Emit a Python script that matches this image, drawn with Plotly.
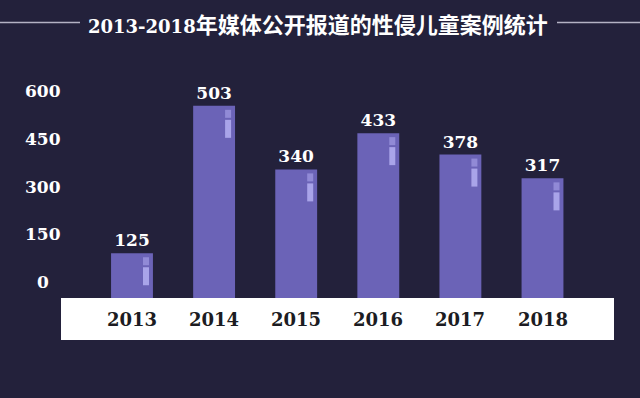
import plotly.graph_objects as go

# ---- data ----
years = ["2013", "2014", "2015", "2016", "2017", "2018"]
cases = [125, 503, 340, 433, 378, 317]
ytick_vals = [0, 150, 300, 450, 600]
ytick_text = ["0", "150", "300", "450", "600"]
title_num = "2013-2018"
title_cjk = "年媒体公开报道的性侵儿童案例统计"

W, H = 640, 398
BG = "#23213b"
BAR = "#6b63b7"
NUMFONT = "DejaVu Serif"

fig = go.Figure()
fig.add_trace(go.Bar(
    x=years, y=cases, width=0.51,
    marker=dict(color=BAR, line=dict(width=0)),
    text=[str(v) for v in cases], textposition="outside",
    textfont=dict(family=NUMFONT, size=17, color="white", weight="bold"),
    cliponaxis=False, yaxis="y", hoverinfo="skip",
))
# invisible trace to establish label axis
fig.add_trace(go.Scatter(x=[years[0]], y=[ytick_vals[0]], yaxis="y2",
                         mode="markers", marker=dict(opacity=0),
                         showlegend=False, hoverinfo="skip"))

shapes = []
# decorations on bars ("i" marks)
for i, v in enumerate(cases):
    for (y0, y1), col in [((-12, -4), "rgba(170,165,235,0.6)"),
                          ((-32, -14), "rgba(185,180,245,0.8)")]:
        shapes.append(dict(type="rect", xref="x", yref="y",
                           xsizemode="pixel", xanchor=i, x0=11, x1=17,
                           ysizemode="pixel", yanchor=v, y0=y0, y1=y1,
                           fillcolor=col, line=dict(width=0), layer="above"))
# white band
shapes.append(dict(type="rect", xref="paper", yref="paper",
                   x0=61 / W, x1=614 / W, y0=(H - 340) / H, y1=(H - 298) / H,
                   fillcolor="white", line=dict(width=0), layer="above"))
# title side lines
ly = (H - 22.5) / H
shapes.append(dict(type="line", xref="paper", yref="paper", x0=0, x1=80 / W,
                   y0=ly, y1=ly, line=dict(color="#b4b2c4", width=1.5)))
shapes.append(dict(type="line", xref="paper", yref="paper", x0=557 / W, x1=1,
                   y0=ly, y1=ly, line=dict(color="#b4b2c4", width=1.5)))

annotations = []
for v, t in zip(ytick_vals, ytick_text):
    annotations.append(dict(x=43 / W, xref="paper", y=v, yref="y2", text=t,
                            showarrow=False, xanchor="center", yanchor="middle",
                            font=dict(family=NUMFONT, size=17, color="white", weight="bold")))
for i, yr in enumerate(years):
    annotations.append(dict(x=i, xref="x", y=(H - 319) / H, yref="paper", text=yr,
                            showarrow=False, xanchor="center", yanchor="middle",
                            font=dict(family=NUMFONT, size=18, color="#1c1c22", weight="bold")))
annotations.append(dict(
    x=318 / W, xref="paper", y=(H - 23) / H, yref="paper",
    text='<span style="font-family:DejaVu Serif;font-size:18px">' + title_num + '</span>' + title_cjk,
    showarrow=False, xanchor="center", yanchor="middle",
    font=dict(family="Noto Sans CJK SC", size=22, color="white", weight="bold")))

# axis ranges: bars 0 at 302px from top, 0.39 px/unit; labels 0 at 281.7px, 0.3173 px/unit
bar_base, bar_k = H - 302, 0.39
lab_base, lab_k = H - 281.7, 0.3173
fig.update_layout(
    width=W, height=H,
    margin=dict(l=0, r=0, t=0, b=0),
    paper_bgcolor=BG, plot_bgcolor=BG,
    showlegend=False,
    xaxis=dict(type="category", range=[-132 / 82.1, (W - 132) / 82.1], visible=False, fixedrange=True),
    yaxis=dict(range=[-bar_base / bar_k, (H - bar_base) / bar_k], visible=False, fixedrange=True),
    yaxis2=dict(range=[-lab_base / lab_k, (H - lab_base) / lab_k], overlaying="y",
                visible=False, fixedrange=True),
    shapes=shapes, annotations=annotations,
)
fig.write_html("out.html", config={"displayModeBar": False},
               post_script="document.body.style.margin='0';document.body.style.background='" + BG + "';")
